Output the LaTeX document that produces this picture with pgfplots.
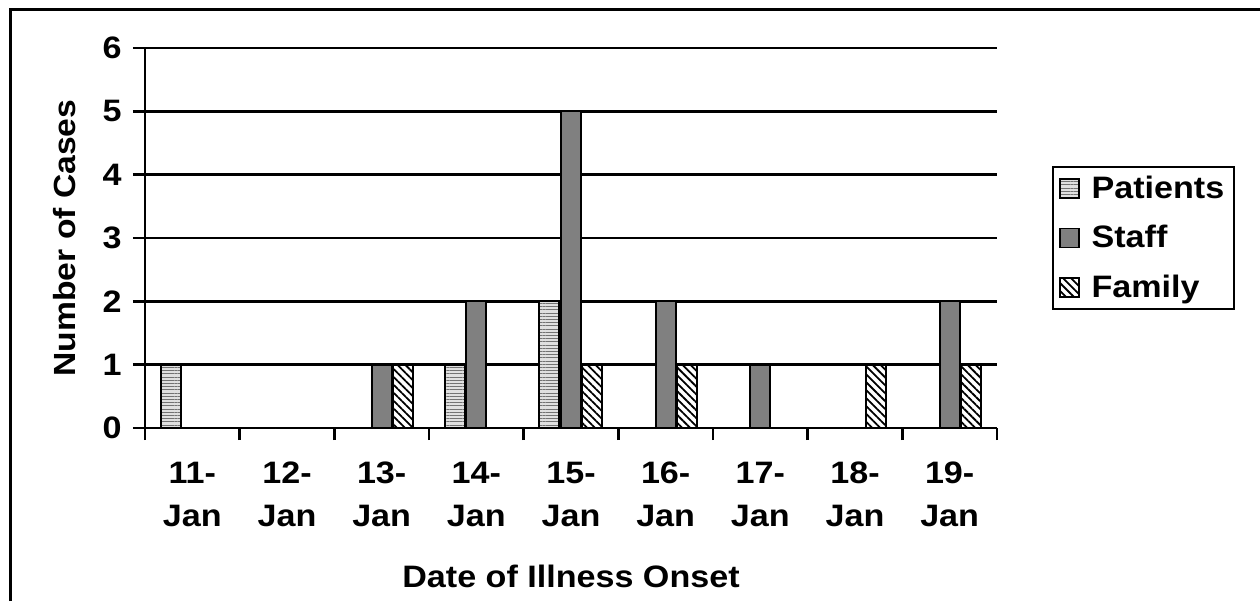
\documentclass[border=0pt]{standalone}
\usepackage{fontspec}
\setmainfont{Liberation Sans}[FakeStretch=1.1]
\usepackage{pgfplots}
\pgfplotsset{compat=1.18}
\usetikzlibrary{patterns.meta}

% cases by day of onset (11-Jan ... 19-Jan at x = 0..8)
\pgfplotstableread{
x  patients staff family
0  1        0     0
1  0        0     0
2  0        1     1
3  1        2     0
4  2        5     1
5  0        2     1
6  0        1     0
7  0        0     1
8  0        2     1
}\cases

\newcommand{\onset}[1]{\strut #1-\\\strut Jan}

\begin{document}
\begin{tikzpicture}
\useasboundingbox (0,0) rectangle (630pt,300.5pt);
\draw[line width=1.5pt] (5pt,0) -- (5pt,295.5pt) -- (640pt,295.5pt);
\begin{axis}[
    at={(72.5pt,86.5pt)}, anchor=south west,
    scale only axis, width=426pt, height=190pt,
    xmin=-0.5, xmax=8.5, ymin=0, ymax=6,
    axis x line*=bottom, axis y line*=left,
    axis line style={line width=1.4pt, -},
    ytick={0,...,6},
    xtick={0,...,8},
    xticklabels={{\onset{11}},{\onset{12}},{\onset{13}},{\onset{14}},{\onset{15}},{\onset{16}},{\onset{17}},{\onset{18}},{\onset{19}}},
    minor xtick={-0.5,0.5,...,8.5},
    tick align=outside,
    major x tick style={draw=none},
    minor x tick style={line width=1.2pt, black},
    major y tick style={line width=1.2pt, black},
    minor tick length=6pt, major tick length=6pt,
    ymajorgrids, grid style={line width=1.2pt, black},
    /pgf/number format/assume math mode=true,
    font=\fontsize{15.5}{21.5}\selectfont\bfseries,
    xticklabel style={align=center, anchor=north, inner sep=0pt, yshift=-6.6pt},
    yticklabel style={anchor=east, inner sep=0pt, xshift=-5.5pt},
    xlabel={Date of Illness Onset},
    xlabel style={at={(axis description cs:0.5,-0.421)}, anchor=base},
    ylabel={Number of Cases},
    ylabel style={at={(axis description cs:-0.0939,0.5)}, anchor=center, font=\fontsize{15.3}{17}\selectfont\bfseries},
    ybar=0.75pt, bar width=10pt,
    legend style={at={(axis description cs:1.0646,0.69)}, anchor=north west,
        draw=black, line width=1pt, inner xsep=3pt, inner ysep=2.5pt, row sep=8pt,
        font=\fontsize{15.5}{17}\selectfont\bfseries,
        nodes={inner sep=2pt},
        /tikz/every odd column/.append style={column sep=4pt}},
    legend cell align=left,
    legend image code/.code={\draw[#1, line width=0.8pt] (0pt,-4.75pt) rectangle (9.5pt,4.75pt);},
]
\addplot[draw=black, line width=1pt, fill=black!12,
    postaction={pattern={Lines[angle=0,distance=1.6pt,line width=0.5pt]}, pattern color=black!55}]
    table[x=x, y=patients] {\cases};
\addlegendentry{Patients}
\addplot[draw=black, line width=1pt, fill=black!50]
    table[x=x, y=staff] {\cases};
\addlegendentry{Staff}
\addplot[draw=black, line width=1pt, fill=white,
    postaction={pattern={Lines[angle=-45,distance=2.8pt,line width=0.9pt]}, pattern color=black}]
    table[x=x, y=family] {\cases};
\addlegendentry{Family}
\end{axis}
\end{tikzpicture}
\end{document}
